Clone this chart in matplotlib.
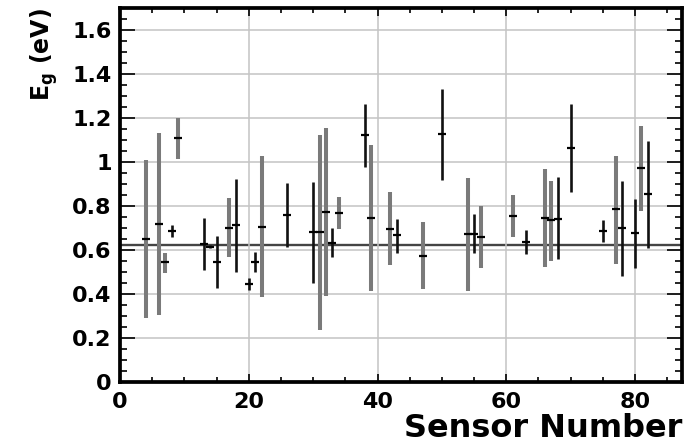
import matplotlib
matplotlib.use('Agg')
import numpy as np
from matplotlib import pyplot as plt
from matplotlib.ticker import MultipleLocator

# sensor number, fitted gap and the ends of each error bar
sensor = [4, 6, 7, 8, 9, 13, 14, 15, 17, 18, 20, 21, 22, 26, 30, 31, 32, 33, 34, 38,
          39, 42, 43, 47, 50, 54, 55, 56, 61, 63, 66, 67, 68, 70, 75, 77, 78, 80, 81, 82]
eg = [0.65, 0.72, 0.545, 0.686, 1.107, 0.626, 0.615, 0.545, 0.70, 0.714,
      0.445, 0.545, 0.706, 0.759, 0.68, 0.68, 0.774, 0.63, 0.77, 1.121,
      0.747, 0.697, 0.667, 0.574, 1.126, 0.673, 0.673, 0.661, 0.756, 0.638,
      0.747, 0.736, 0.743, 1.065, 0.688, 0.785, 0.701, 0.675, 0.971, 0.855]
eg_lo = [0.29, 0.305, 0.497, 0.658, 1.012, 0.509, 0.608, 0.426, 0.567, 0.501,
         0.418, 0.501, 0.388, 0.612, 0.448, 0.236, 0.391, 0.567, 0.694, 0.979,
         0.414, 0.532, 0.588, 0.423, 0.918, 0.415, 0.585, 0.517, 0.658, 0.58,
         0.524, 0.551, 0.557, 0.862, 0.635, 0.536, 0.482, 0.517, 0.779, 0.61]
eg_hi = [1.01, 1.133, 0.585, 0.714, 1.198, 0.744, 0.622, 0.664, 0.838, 0.923,
         0.472, 0.592, 1.027, 0.903, 0.91, 1.123, 1.156, 0.698, 0.839, 1.264,
         1.077, 0.862, 0.741, 0.729, 1.33, 0.926, 0.764, 0.801, 0.85, 0.691,
         0.967, 0.914, 0.933, 1.264, 0.736, 1.027, 0.914, 0.83, 1.164, 1.095]
# 'g' = grey band, 'k' = black bar
kind = ['g', 'g', 'g', 'k', 'g', 'k', 'k', 'k', 'g', 'k',
        'k', 'k', 'g', 'k', 'k', 'g', 'g', 'k', 'g', 'k',
        'g', 'g', 'k', 'g', 'k', 'g', 'k', 'g', 'g', 'k',
        'g', 'g', 'k', 'k', 'k', 'g', 'k', 'k', 'g', 'k']
mean_eg = 0.623

plt.rcParams['font.family'] = ['DejaVu Sans']
plt.rcParams['font.weight'] = 'bold'

fig = plt.figure(figsize=(6.87, 4.45), dpi=100)
ax = fig.add_axes([0.1747, 0.1416, 0.818, 0.8404])

x = np.array(sensor)
y = np.array(eg)
lo = y - np.array(eg_lo)
hi = np.array(eg_hi) - y
k = np.array(kind)

ax.grid(True, color='#c4c4c4', lw=1.1, zorder=0)
ax.axhline(mean_eg, color='#444444', lw=1.7, zorder=1)

styles = {'g': dict(ecolor='#7a7a7a', elinewidth=2.9),
          'k': dict(ecolor='#111111', elinewidth=1.9)}
for kk, st in styles.items():
    m = k == kk
    ax.errorbar(x[m], y[m], yerr=[lo[m], hi[m]], fmt='none', capsize=0, zorder=3, **st)
ax.plot(x, y, ls='none', marker='_', ms=6, mew=1.6, color='black', zorder=4)

ax.set_xlim(0, 87.3)
ax.set_ylim(0, 1.7)
ax.xaxis.set_major_locator(MultipleLocator(20))
ax.xaxis.set_minor_locator(MultipleLocator(5))
ax.yaxis.set_major_locator(MultipleLocator(0.2))
ax.yaxis.set_minor_locator(MultipleLocator(0.05))
ax.set_yticks(np.arange(0, 1.61, 0.2))
ax.set_yticklabels(['0', '0.2', '0.4', '0.6', '0.8', '1', '1.2', '1.4', '1.6'])

ax.tick_params(which='both', direction='in', top=True, right=True, width=1.2,
               labelsize=16)
ax.tick_params(axis='y', which='major', length=10.5, pad=6)
ax.tick_params(axis='y', which='minor', length=5)
ax.tick_params(axis='x', which='major', length=6, pad=7)
ax.tick_params(axis='x', which='minor', length=3.5)
for lab in ax.get_xticklabels() + ax.get_yticklabels():
    lab.set_fontweight('bold')

for s in ax.spines.values():
    s.set_linewidth(2.7)

ax.set_xlabel('Sensor Number', fontsize=23, fontweight='bold', loc='right', labelpad=1)
ax.set_ylabel(r'$\mathbf{E_g}$ (eV)', fontsize=17, fontweight='bold', loc='top', labelpad=9)

fig.savefig('out.png', dpi=100)
